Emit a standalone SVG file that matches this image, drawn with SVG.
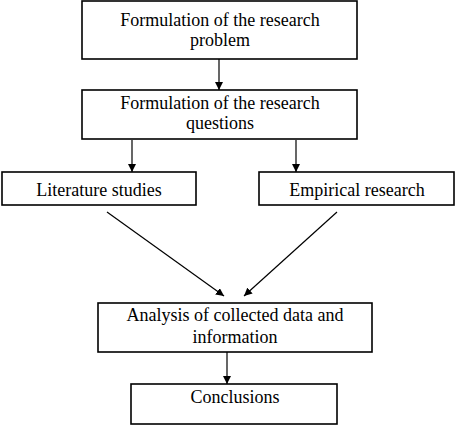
<svg xmlns="http://www.w3.org/2000/svg" width="459" height="428" viewBox="0 0 459 428">
<style>
.b{fill:#fff;stroke:#000;stroke-width:1.6}
text{font-family:"Liberation Serif","Times New Roman",serif;font-size:18px;fill:#000;text-anchor:middle}
.c line{stroke:#000;stroke-width:1.2;marker-end:url(#ah)}
</style>
<defs>
<marker id="ah" viewBox="0 0 10 10" refX="10" refY="5" markerWidth="8" markerHeight="8" markerUnits="userSpaceOnUse" orient="auto"><path d="M0,0L10,5L0,10z" fill="#000"/></marker>
</defs>
<rect width="459" height="428" fill="#fff"/>
<g id="n1"><rect class="b" x="82" y="1" width="275" height="58"/><text x="220" y="26">Formulation of the research</text><text x="220" y="46">problem</text></g>
<g id="n2"><rect class="b" x="82" y="90" width="275" height="49"/><text x="220" y="109">Formulation of the research</text><text x="220" y="129">questions</text></g>
<g id="n3"><rect class="b" x="2" y="172" width="194" height="33"/><text x="99" y="196">Literature studies</text></g>
<g id="n4"><rect class="b" x="259" y="172" width="195" height="33"/><text x="357" y="196">Empirical research</text></g>
<g id="n5"><rect class="b" x="98" y="303" width="274" height="49"/><text x="235" y="321">Analysis of collected data and</text><text x="235" y="343">information</text></g>
<g id="n6"><rect class="b" x="131" y="384" width="206" height="40"/><text x="235" y="403">Conclusions</text></g>
<g class="c" id="connectors">
<line x1="219" y1="59" x2="219" y2="90"/>
<line x1="132" y1="140" x2="132" y2="172"/>
<line x1="296" y1="140" x2="296" y2="172"/>
<line x1="107" y1="212" x2="224" y2="296"/>
<line x1="337" y1="212" x2="244" y2="296"/>
<line x1="227" y1="352" x2="227" y2="384"/>
</g>
</svg>
